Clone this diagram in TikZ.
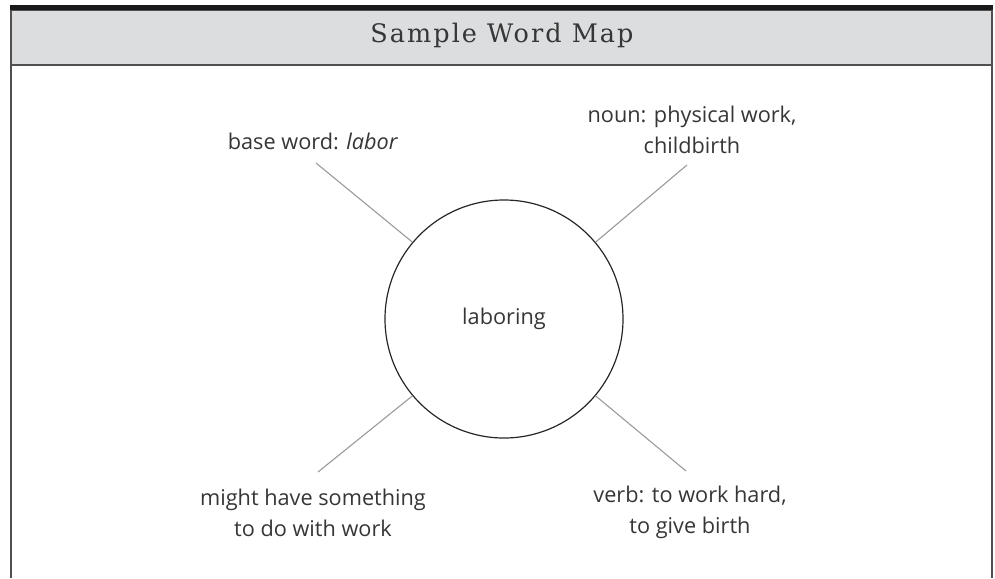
\documentclass[tikz,border=0pt]{standalone}
\usepackage{fontspec}
\setmainfont{Open Sans}
\newfontfamily\titlefont[LetterSpace=8]{DejaVu Serif}
\usepackage{xcolor}
\usepackage{tikz}
\definecolor{headgray}{HTML}{DCDDDF}
\definecolor{framegray}{HTML}{505050}
\definecolor{inkgray}{HTML}{363636}
\definecolor{spokegray}{HTML}{9A9A9A}

\begin{document}
\begin{tikzpicture}[x=1pt, y=-1pt]
      \tikzstyle{frame} = [draw=framegray, line width=1.5pt]
      \tikzstyle{hub} = [circle, draw=black!85, line width=1.2pt, minimum size=238pt, inner sep=0pt, text=inkgray, font=\fontsize{21.7}{26}\selectfont]
      \tikzstyle{spoke} = [draw=spokegray, line width=1.1pt]
      \tikzstyle{leaf} = [align=center, anchor=base, text=inkgray, font=\fontsize{21.7}{30.5}\selectfont]
      \useasboundingbox (0,0) rectangle (995,578);
      \fill[headgray] (11,10) rectangle (992,65); % header band
      \draw[frame] (11,578) -- (11,10) -- (992,10) -- (992,578);
      \draw[frame] (11,65) -- (992,65);
      \fill[black!90] (10,5) rectangle (993,10); % top bar
      \node[anchor=base, text=inkgray, font=\titlefont\fontsize{25.5}{30}\selectfont] (title) at (502,42) {Sample Word Map};
      \node[hub] (word) at (504,319) {laboring};
      \node[leaf] (base) at (313,149) {base word: \textit{labor}};
      \node[leaf] (noun) at (692,153) {noun: physical work,\\childbirth};
      \node[leaf] (guess) at (313,536) {might have something\\to do with work};
      \node[leaf] (verb) at (690,533) {verb: to work hard,\\to give birth};
      \coordinate (baseEnd) at (316,163);
      \coordinate (nounEnd) at (687,165);
      \coordinate (guessEnd) at (318,472);
      \coordinate (verbEnd) at (686,471);
      \draw[spoke] (baseEnd) -- (word.140);
      \draw[spoke] (nounEnd) -- (word.40);
      \draw[spoke] (guessEnd) -- (word.-140);
      \draw[spoke] (verbEnd) -- (word.-40);
    \end{tikzpicture}
\end{document}
